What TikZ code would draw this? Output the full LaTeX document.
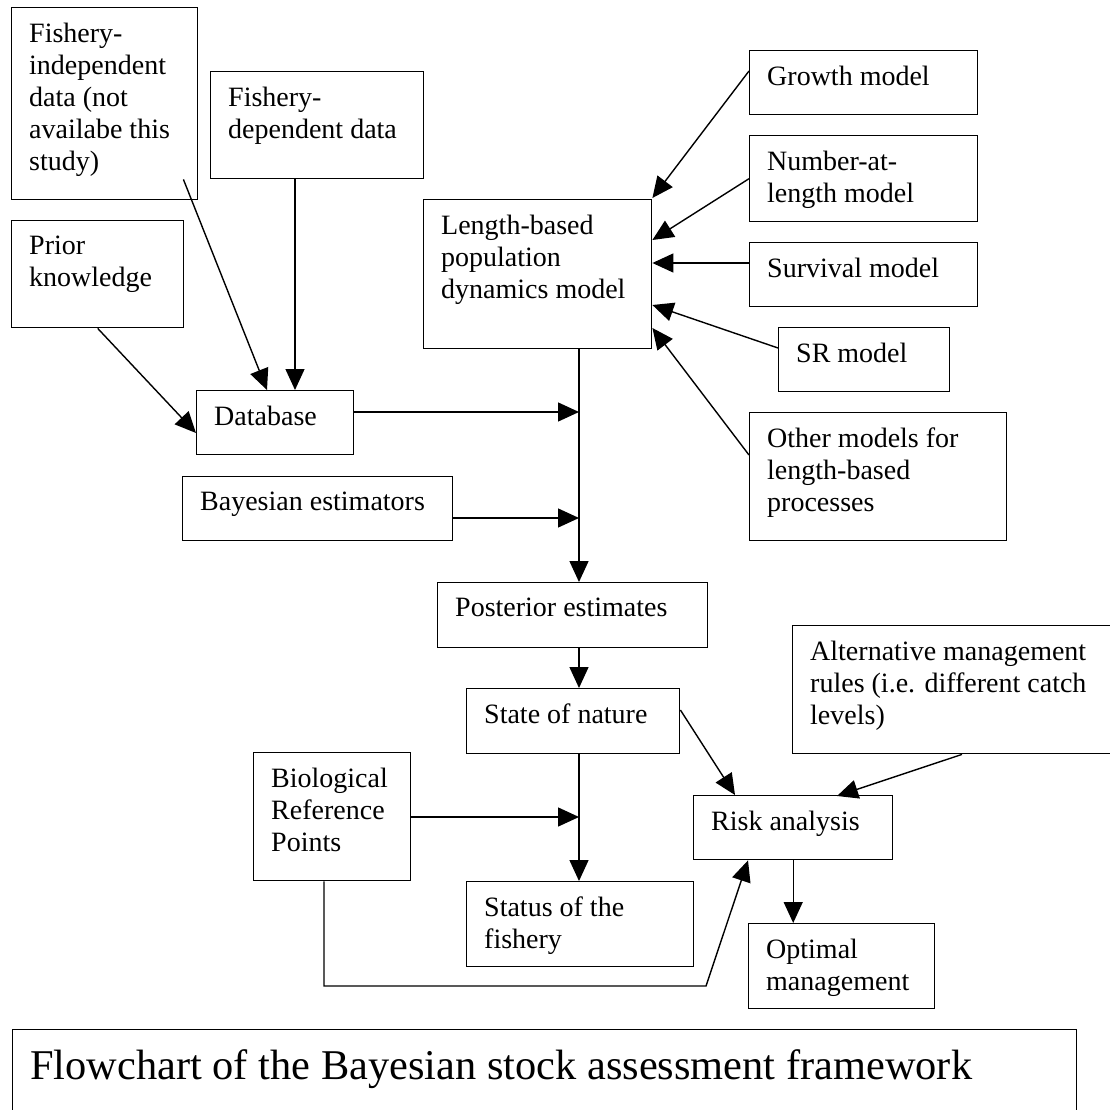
\documentclass[tikz,border=0pt]{standalone}
\usepackage{fontspec}
\setmainfont{Liberation Serif}
\usetikzlibrary{arrows.meta,calc}
\tikzset{
  box/.style={draw, line width=1.4pt, anchor=north west, inner sep=0pt},
  txt/.style={anchor=north west, inner sep=0pt, align=left, font=\fontsize{28}{32}\selectfont},
  captxt/.style={anchor=north west, inner sep=0pt, align=left, font=\fontsize{42.4}{48}\selectfont},
  conn/.style={line width=1.4pt, -{Triangle[length=21pt,width=19pt]}},
}
\newcommand\mybox[6]{%
  \node[box, minimum width=#4pt, minimum height=#5pt] (#1) at (#2,#3) {};
  \node[txt] (#1-t) at ([shift={(18,16)}]#1.north west) {#6};
}
\begin{document}
\begin{tikzpicture}[x=1pt, y=-1pt]
\useasboundingbox (0,0) rectangle (1110,1110);
\fill[white] (0,0) rectangle (1110,1110);

\mybox{fi}{11}{7}{186}{192}{Fishery-\\independent\\data (not\\availabe this\\study)}
\mybox{fd}{210}{71}{213}{107}{Fishery-\\dependent data}
\mybox{prior}{11}{220}{172}{107}{Prior\\knowledge}
\mybox{db}{196}{390}{157}{64}{Database}
\mybox{bayes}{182}{476}{270}{64}{Bayesian estimators}
\mybox{lbm}{423}{199}{228}{149}{Length-based\\population\\dynamics model}
\mybox{growth}{749}{50}{228}{64}{Growth model}
\mybox{num}{749}{135}{228}{86}{Number-at-\\length model}
\mybox{surv}{749}{242}{228}{64}{Survival model}
\mybox{sr}{778}{327}{171}{64}{SR model}
\mybox{other}{749}{412}{257}{128}{Other models for\\length-based\\processes}
\mybox{post}{437}{582}{270}{65}{Posterior estimates}
\mybox{son}{466}{688}{213}{65}{State of nature}
\mybox{bio}{253}{752}{157}{128}{Biological\\Reference\\Points}
\mybox{alt}{792}{625}{330}{128}{Alternative management\\rules (i.e. different catch\\levels)}
\mybox{risk}{693}{795}{199}{64}{Risk analysis}
\mybox{status}{466}{881}{227}{85}{Status of the\\fishery}
\mybox{opt}{748}{923}{186}{85}{Optimal\\management}

\node[box, minimum width=1064pt, minimum height=100pt] (cap) at (12,1029) {};
\node[captxt] (cap-t) at ([shift={(18,20)}]cap.north west) {Flowchart of the Bayesian stock assessment framework};

% trunk of the main chain
\coordinate (trunk) at ($(lbm.south west)+(156,0)$);
\coordinate (dbout) at ($(db.north east)+(0,22)$);
\coordinate (bayout) at ($(bayes.north east)+(0,42)$);
\coordinate (bioout) at ($(bio.north east)+(0,65)$);
\coordinate (bend) at (706,986);

% inputs to database
\draw[conn] ($(fi.south east)+(-15,-21)$) -- ($(db.north west)+(71,0)$);
\draw[conn] ($(fd.south west)+(85,0)$) -- ($(db.north west)+(99,0)$);
\draw[conn] (prior.south) -- ($(db.north west)+(0,43)$);

% into the trunk
\draw[conn] (dbout) -- (trunk |- dbout);
\draw[conn] (bayout) -- (trunk |- bayout);
\draw[conn] (trunk) -- (trunk |- post.north);

% model inputs
\draw[conn] ($(growth.north west)+(0,21)$) -- ($(lbm.north east)+(0,-1)$);
\draw[conn] (num.west) -- ($(lbm.north east)+(0,41)$);
\draw[conn] ($(surv.north west)+(0,21)$) -- ($(lbm.north east)+(0,64)$);
\draw[conn] ($(sr.north west)+(0,21)$) -- ($(lbm.north east)+(0,106)$);
\draw[conn] ($(other.north west)+(0,43)$) -- ($(lbm.north east)+(0,129)$);

% lower chain
\draw[conn] (trunk |- post.south) -- (trunk |- son.north);
\draw[conn] (trunk |- son.south) -- (trunk |- status.north);
\draw[conn] (bioout) -- (trunk |- bioout);
\draw[conn] ($(son.north east)+(0,22)$) -- ($(risk.north west)+(42,0)$);
\draw[conn] ($(alt.south west)+(170,0)$) -- ($(risk.north west)+(144,1)$);
\draw[conn] (risk.south) -- (risk.south |- opt.north);
\draw[conn] ($(bio.south west)+(71,0)$) |- (bend) -- ($(risk.south west)+(55,0)$);
\end{tikzpicture}
\end{document}
